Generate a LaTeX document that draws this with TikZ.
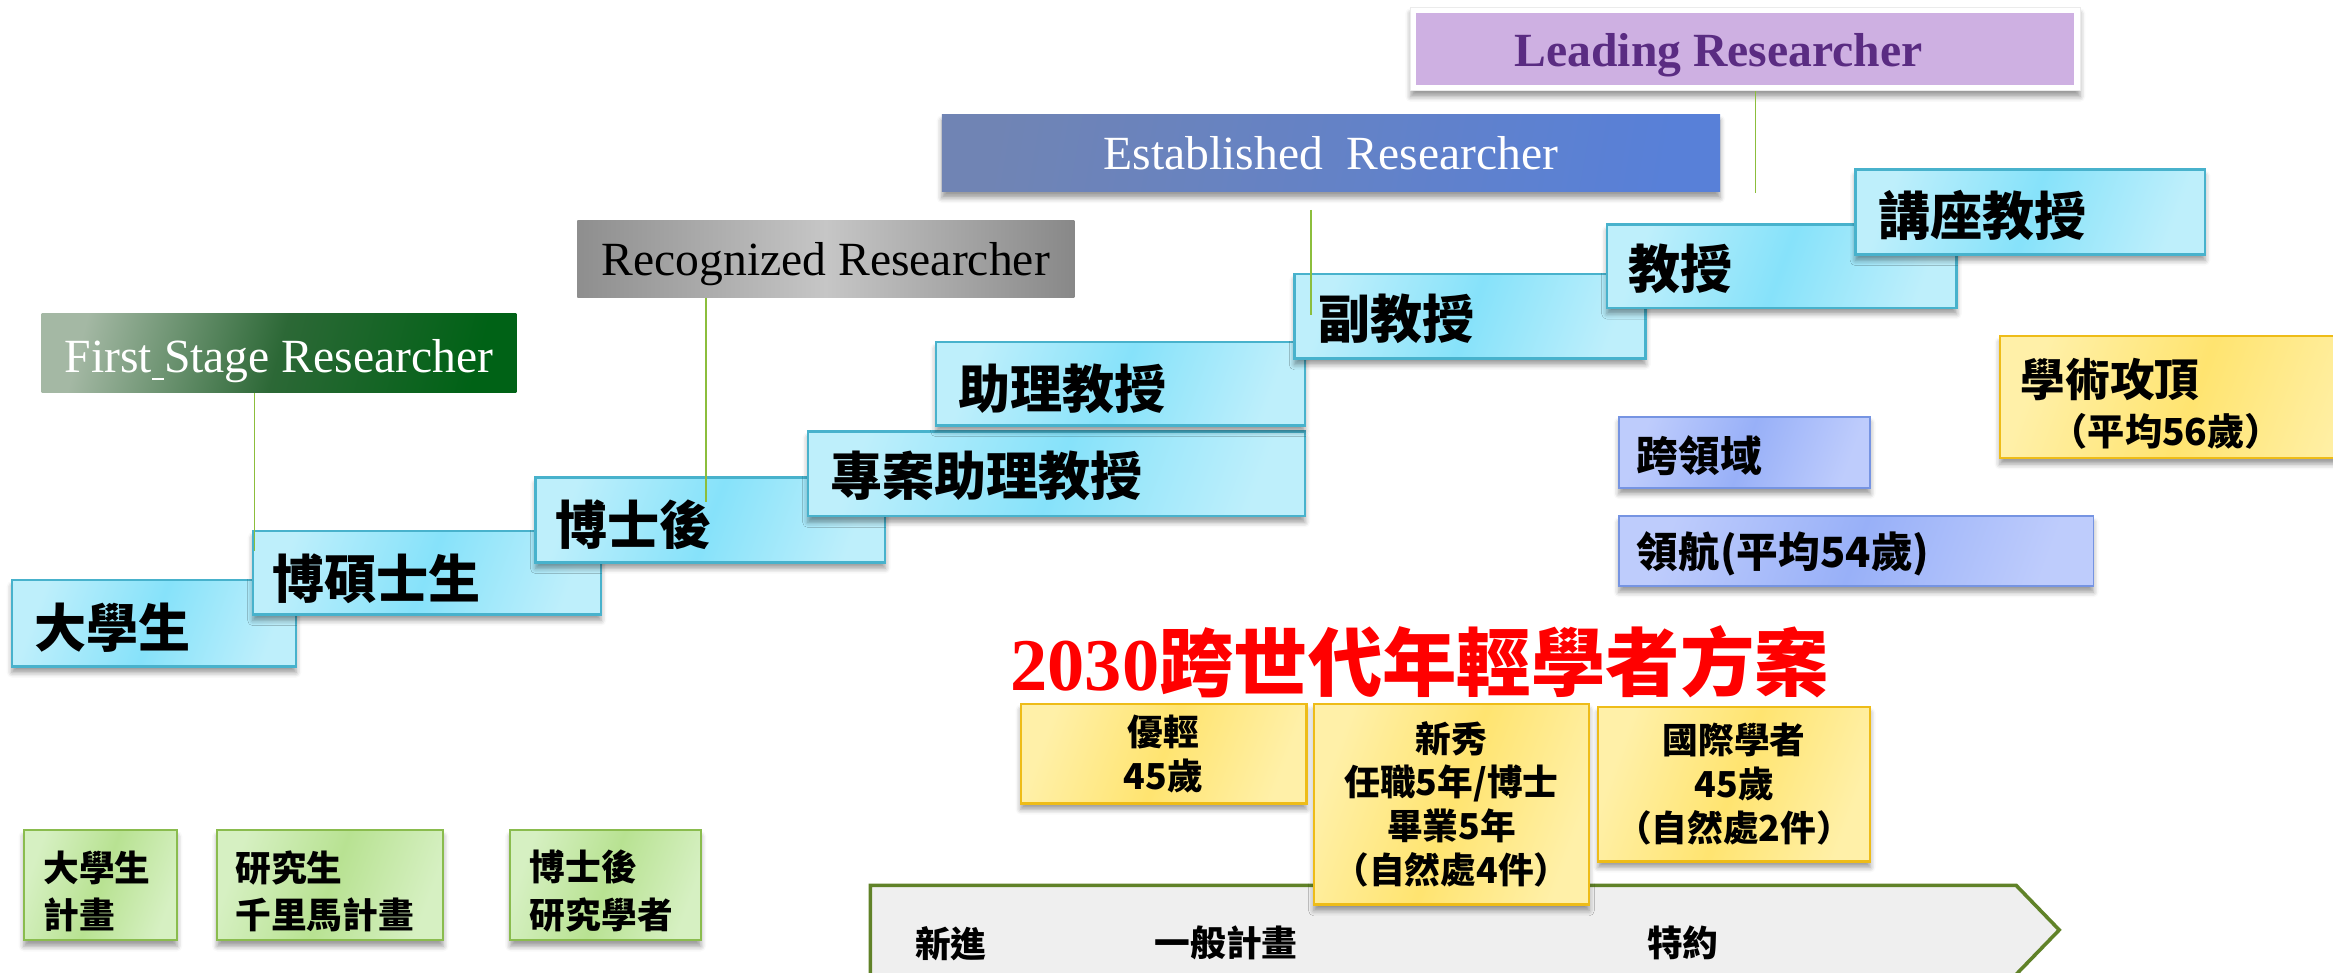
\documentclass[tikz,border=0pt]{standalone}
\usepackage{fontspec}
\setmainfont{Liberation Serif}
\newfontfamily\cjk{Noto Sans CJK TC}
\usetikzlibrary{shadows.blur}
\newcommand\myfs[2]{\fontsize{#1}{#2}\selectfont}
\definecolor{cyanL}{RGB}{190,239,251}
\definecolor{cyanM}{RGB}{134,226,250}
\definecolor{cyanB}{RGB}{72,178,204}
\definecolor{bluL}{RGB}{190,204,252}
\definecolor{bluM}{RGB}{152,176,248}
\definecolor{bluB}{RGB}{118,148,226}
\definecolor{yelL}{RGB}{255,240,168}
\definecolor{yelM}{RGB}{255,228,112}
\definecolor{yelB}{RGB}{238,188,24}
\definecolor{grnL}{RGB}{214,240,194}
\definecolor{grnM}{RGB}{184,226,146}
\definecolor{grnB}{RGB}{138,188,78}
\definecolor{arrF}{RGB}{239,239,239}
\definecolor{arrB}{RGB}{96,130,40}
\definecolor{conC}{RGB}{140,190,60}
\definecolor{fsL}{RGB}{164,184,164}
\definecolor{fsM}{RGB}{44,104,54}
\definecolor{fsR}{RGB}{0,98,22}
\definecolor{rrL}{RGB}{142,142,142}
\definecolor{rrM}{RGB}{198,198,198}
\definecolor{rrR}{RGB}{136,136,136}
\definecolor{erL}{RGB}{112,132,180}
\definecolor{erR}{RGB}{88,128,216}
\definecolor{lrF}{RGB}{206,176,226}
\definecolor{lrT}{RGB}{90,44,130}
\definecolor{ttlC}{RGB}{255,0,0}
\begin{document}
\begin{tikzpicture}[x=1pt,y=-1pt,
  nw/.style={inner sep=0pt,outer sep=0pt,anchor=north west},
  shd/.style={blur shadow={shadow xshift=0pt,shadow yshift=-4pt,shadow blur radius=3.5pt,shadow opacity=40}},
  stair/.style={nw,shd,draw=cyanB,line width=1.6pt,left color=cyanL,right color=cyanL,middle color=cyanM,shading angle=70},
  stairtxt/.style={inner sep=0pt,anchor=west,font=\cjk\bfseries\myfs{35}{40}},
  banner/.style={nw,font=\myfs{32}{36},text depth=0pt},
  bbox/.style={nw,shd,draw=bluB,line width=1.2pt,left color=bluL,right color=bluL,middle color=bluM,shading angle=70},
  ybox/.style={nw,shd,draw=yelB,line width=1.6pt,left color=yelL,right color=yelL,middle color=yelM,shading angle=70,align=center,font=\cjk\bfseries\myfs{24}{29.5}},
  gbox/.style={nw,shd,draw=grnB,line width=1.4pt,left color=grnL,right color=grnL,middle color=grnM,shading angle=70},
  ltxt/.style={inner sep=0pt,anchor=west,align=left},
  gtxt/.style={ltxt,font=\cjk\bfseries\myfs{24}{32}},
  atxt/.style={inner sep=0pt,font=\cjk\bfseries\myfs{24}{28}},
  conn/.style={draw=conC,line width=1pt}
]
\path[use as bounding box] (0,0) rectangle (1568,653.3);
\clip (0,0) rectangle (1568,653.3);

% banners
\node[banner,minimum width=319pt,minimum height=53pt,left color=fsL,right color=fsR,middle color=fsM,shading angle=75,text=white] (fsr) at (28,211) {\raisebox{-4pt}{First\rlap{\rule[-0.16em]{0.25em}{0.05em}}\ Stage Researcher}};
\node[banner,minimum width=334pt,minimum height=52pt,left color=rrL,right color=rrR,middle color=rrM,shading angle=90,text=black] (rr) at (388,148) {Recognized Researcher};
\node[banner,shd,minimum width=523pt,minimum height=52pt,left color=erL,right color=erR,shading angle=80,text=white] (er) at (633,77) {Established\ \ Researcher};
\node[nw,shd,fill=white,draw=black!8,line width=0.6pt,minimum width=450pt,minimum height=56pt] (lro) at (948,5) {};
\node[nw,fill=lrF,minimum width=442pt,minimum height=48pt] (lr) at (952,9) {};
\node[inner sep=0pt,text depth=0pt,font=\bfseries\myfs{32}{36},text=lrT] (lrt) at (1155,33.5) {Leading Researcher};

% staircase
\node[stair,minimum width=191pt,minimum height=58pt] (s1) at (8,390) {};
\node[stairtxt] (s1t) at (23,422) {大學生};
\node[stair,minimum width=234pt,minimum height=56pt] (s2) at (170,357) {};
\node[stairtxt] (s2t) at (183,389) {博碩士生};
\node[stair,minimum width=235pt,minimum height=57pt] (s3) at (360,321) {};
\node[stairtxt] (s3t) at (373,353) {博士後};
\node[stair,minimum width=334pt,minimum height=57pt] (s4) at (543,290) {};
\node[stairtxt] (s4t) at (558,320) {專案助理教授};
\node[stair,minimum width=248pt,minimum height=56pt] (s5) at (629,230) {};
\node[stairtxt] (s5t) at (644,261) {助理教授};
\node[stair,minimum width=236pt,minimum height=57pt] (s6) at (870,184) {};
\node[stairtxt] (s6t) at (886,214) {副教授};
\node[stair,minimum width=235pt,minimum height=56pt] (s7) at (1080,151) {};
\node[stairtxt] (s7t) at (1094,181) {教授};
\node[stair,minimum width=235pt,minimum height=57pt] (s8) at (1247,114) {};
\node[stairtxt] (s8t) at (1262,145) {講座教授};

% connectors
\coordinate (c1) at (171,370);
\draw[conn] (fsr.south -| c1) -- (c1);
\coordinate (c2) at (474.5,337.5);
\draw[conn] (rr.south -| c2) -- (c2);
\coordinate (c3a) at (881,141);
\coordinate (c3b) at (881,212);
\draw[conn] (c3a) -- (c3b);
\coordinate (c4) at (1180,130);
\draw[conn] (lro.south -| c4) -- (c4);

% right side
\node[bbox,minimum width=169pt,minimum height=48pt] (kl) at (1088,280) {};
\node[ltxt,font=\cjk\bfseries\myfs{28}{32}] (klt) at (1100,306) {跨領域};
\node[bbox,minimum width=319pt,minimum height=47pt] (lh) at (1088,347) {};
\node[ltxt,font=\cjk\bfseries\myfs{28}{32}] (lht) at (1100,372) {領航(平均54歲)};
\node[ybox,minimum width=260pt,minimum height=82pt] (xs) at (1344,226) {};
\node[ltxt,font=\cjk\bfseries\myfs{30}{34}] (xst1) at (1358,255) {學術攻頂};
\node[ltxt,font=\cjk\bfseries\myfs{25}{30}] (xst2) at (1378,290) {（平均56歲）};

% title
\node[ltxt,text=ttlC,font=\bfseries\myfs{50}{56}] (ttl) at (679,445) {2030{\cjk 跨世代年輕學者方案}};

% bottom arrow
\draw[fill=arrF,draw=arrB,line width=2.4pt] (585,595) -- (1355,595) -- (1384,625) -- (1353,657) -- (585,657) -- cycle;
\node[atxt] (a1) at (639,634) {新進};
\node[atxt] (a2) at (824,634) {一般計畫};
\node[atxt] (a3) at (1131,634) {特約};

% yellow boxes
\node[ybox,minimum width=192pt,minimum height=67pt] (y1) at (686,473) {優輕\\45歲};
\node[ybox,minimum width=185pt,minimum height=135pt] (y2) at (883,473) {新秀\\任職5年/博士\\畢業5年\\（自然處4件）};
\node[ybox,minimum width=183pt,minimum height=104pt] (y3) at (1074,475) {國際學者\\45歲\\（自然處2件）};

% green boxes
\node[gbox,minimum width=103pt,minimum height=74pt] (g1) at (16,558) {};
\node[gtxt] (g1t) at (29,599) {大學生\\計畫};
\node[gbox,minimum width=152pt,minimum height=74pt] (g2) at (146,558) {};
\node[gtxt] (g2t) at (158,599) {研究生\\千里馬計畫};
\node[gbox,minimum width=128pt,minimum height=74pt] (g3) at (343,558) {};
\node[gtxt] (g3t) at (356,599) {博士後\\研究學者};
\end{tikzpicture}
\end{document}
